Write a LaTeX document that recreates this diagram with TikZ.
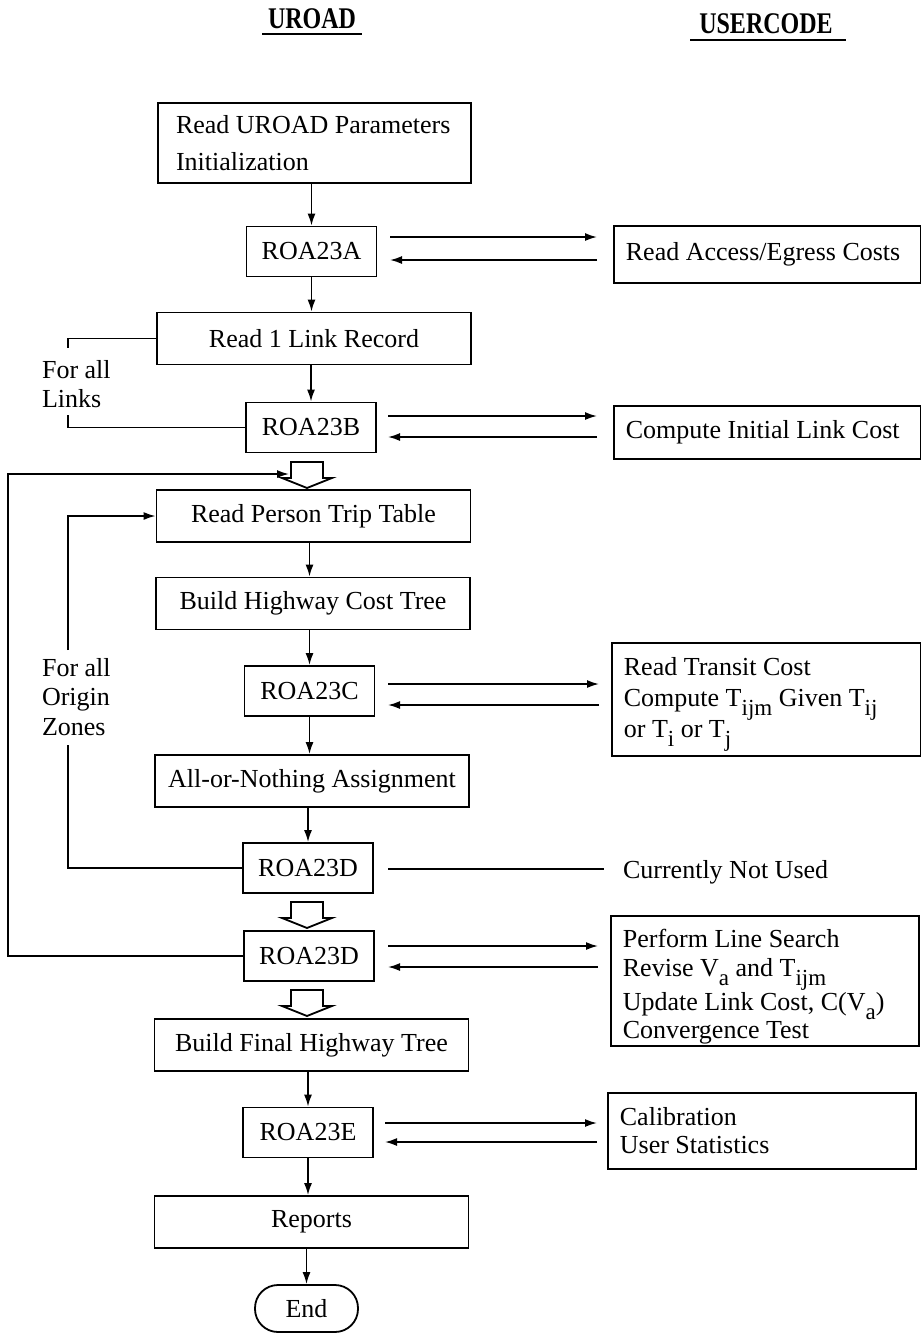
\documentclass[tikz,border=0pt]{standalone}
\usepackage{fontspec}
\usepackage{graphicx}
\setmainfont{Liberation Serif}
\usetikzlibrary{arrows.meta,calc}
\newcommand\sbs[1]{\raisebox{-0.75ex}{\fontsize{11.5}{12}\selectfont #1}}
\begin{document}
\begin{tikzpicture}[x=0.5pt,y=-0.5pt,
  every node/.style={font=\fontsize{13}{15}\selectfont},
  box/.style={draw, line width=0.9pt, inner sep=0pt},
  wide/.style={box, minimum width=157pt, minimum height=26pt},
  small/.style={box, minimum width=65pt, minimum height=25pt},
  rbox/.style={box, align=flush left, inner xsep=6pt, anchor=north west, text width=#1},
  ln/.style={line width=0.85pt},
  arr/.style={ln, -{Latex[length=6pt,width=4pt]}},
  lbl/.style={align=flush left, anchor=west, font=\fontsize{13}{14.5}\selectfont},
  title/.style={font=\fontsize{15}{17}\selectfont\bfseries},
  uline/.style={line width=1.3pt},
  harrow/.pic={\draw[line width=0.9pt, fill=white] (-16,0) -- (16,0) -- (16,16) -- (25,16) -- (0,26) -- (-25,16) -- (-16,16) -- cycle;}
]
\useasboundingbox (0,0) rectangle (921,1334);

% titles
\node[title] (t1) at (312,19) {\scalebox{0.8}[1]{UROAD}};
\node[title] (t2) at (766,24) {\scalebox{0.8}[1]{USERCODE}};
\draw[uline] (262,34) -- (362,34);
\draw[uline] (690,40) -- (846,40);

% main column
\node[box, minimum width=156.5pt, minimum height=40pt, text width=138.5pt, inner xsep=9pt, align=flush left, font=\fontsize{13}{18.5}\selectfont] (b1) at (314.5,143) {Read UROAD Parameters\\Initialization};
\node[small] (a) at (311.5,251.5) {ROA23A};
\node[wide] (b2) at (314,338.5) {Read 1 Link Record};
\node[small] (b) at (311,427.5) {ROA23B};
\node[wide] (b3) at (313.5,516) {Read Person Trip Table};
\node[wide] (b4) at (313,603.5) {Build Highway Cost Tree};
\node[small] (c) at (309.5,691) {ROA23C};
\node[wide] (b5) at (312,781) {All-or-Nothing Assignment};
\node[small] (d1) at (308,868) {ROA23D};
\node[small] (d2) at (309,956) {ROA23D};
\node[wide] (b6) at (311.5,1045) {Build Final Highway Tree};
\node[small] (e) at (308,1132.5) {ROA23E};
\node[wide] (b7) at (311.5,1222) {Reports};
\node[box, rounded corners=11.5pt, minimum width=51.5pt, minimum height=23.5pt] (end) at (306.5,1308.5) {End};

% vertical arrows
\draw[arr] (b1.south -| a) -- (a.north);
\draw[arr] (a.south) -- (a.south |- b2.north);
\draw[arr] (b2.south -| b) -- (b.north);
\draw[arr] (b3.south -| c) -- (b4.north -| c);
\draw[arr] (b4.south -| c) -- (c.north);
\draw[arr] (c.south) -- (c.south |- b5.north);
\draw[arr] (b5.south -| d1) -- (d1.north);
\draw[arr] (b6.south -| e) -- (e.north);
\draw[arr] (e.south) -- (e.south |- b7.north);
\draw[arr] (b7.south -| end) -- (end.north);

% hollow arrows
\pic at (307,462) {harrow};
\pic at (307,902) {harrow};
\pic at (307,990) {harrow};

% right column
\node[rbox=141.5pt, minimum height=28.5pt] (r1) at (613,225) {Read Access/Egress Costs};
\node[rbox=141.5pt, minimum height=26.5pt] (r2) at (613,405) {Compute Initial Link Cost};
\node[rbox=142.5pt, minimum height=56.5pt, font=\fontsize{13}{15.5}\selectfont] (r3) at (611,642) {\rule{0pt}{14pt}Read Transit Cost\\Compute T\sbs{ijm} Given T\sbs{ij}\\or T\sbs{i} or T\sbs{j}};
\node[rbox=142pt, minimum height=65pt, font=\fontsize{13}{14.2}\selectfont] (r4) at (610,915) {\rule{0pt}{15pt}Perform Line Search\\Revise V\sbs{a} and T\sbs{ijm}\\Update Link Cost, C(V\sbs{a})\\Convergence Test};
\node[rbox=142pt, minimum height=38pt, font=\fontsize{13}{14}\selectfont] (r5) at (607,1092) {Calibration\\User Statistics};
\node[anchor=west] (nu) at (616,872) {Currently Not Used};

% horizontal arrow pairs
\coordinate (a1) at (390,237); \coordinate (a2) at (597,237);
\coordinate (a3) at (597,260); \coordinate (a4) at (390,260);
\draw[arr] (a1) -- (a2); \draw[arr] (a3) -- (a4);
\coordinate (bb1) at (388,416); \coordinate (bb2) at (597,416);
\coordinate (bb3) at (597,437); \coordinate (bb4) at (388,437);
\draw[arr] (bb1) -- (bb2); \draw[arr] (bb3) -- (bb4);
\coordinate (c1) at (388,684); \coordinate (c2) at (599,684);
\coordinate (c3) at (599,705); \coordinate (c4) at (388,705);
\draw[arr] (c1) -- (c2); \draw[arr] (c3) -- (c4);
\coordinate (dd1) at (388,869); \coordinate (dd2) at (604,869);
\draw[ln] (dd1) -- (dd2);
\coordinate (d21) at (388,946); \coordinate (d22) at (598,946);
\coordinate (d23) at (598,967); \coordinate (d24) at (388,967);
\draw[arr] (d21) -- (d22); \draw[arr] (d23) -- (d24);
\coordinate (e1) at (385,1123); \coordinate (e2) at (597,1123);
\coordinate (e3) at (597,1142); \coordinate (e4) at (385,1142);
\draw[arr] (e1) -- (e2); \draw[arr] (e3) -- (e4);

% loops
\node[lbl] (fl) at (35,384) {For all\\Links};
\coordinate (l1) at (68,348);
\coordinate (l2) at (68,415);
\draw[ln] (b2.west) -| (l1);
\draw[ln] (l2) |- (b.west);
\node[lbl, font=\fontsize{13}{14.8}\selectfont] (fo) at (35,697) {For all\\Origin\\Zones};
\coordinate (l3) at (68,650);
\coordinate (l4) at (68,745);
\draw[arr] (l3) |- (b3.west);
\draw[ln] (l4) |- (d1.west);
\coordinate (o1) at (8,474);
\coordinate (h1l) at (289,474);
\draw[arr] (d2.west) -| (o1) -- (h1l);
\end{tikzpicture}
\end{document}
